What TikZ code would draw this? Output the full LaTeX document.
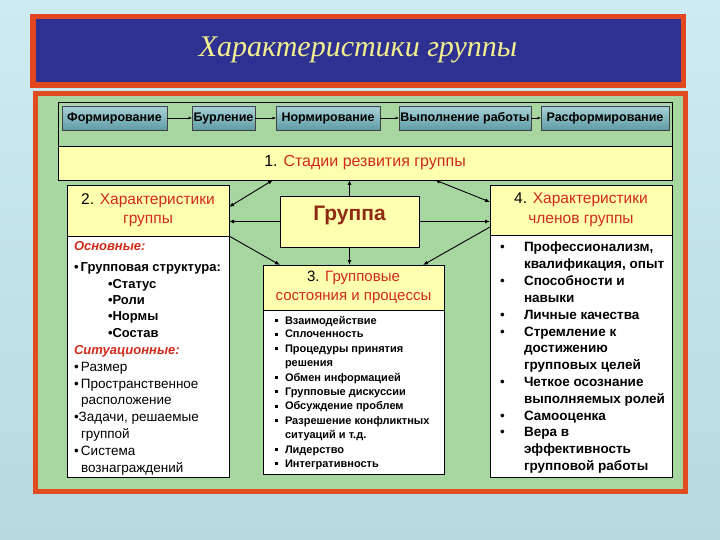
\documentclass[tikz,border=0pt]{standalone}
\usepackage{fontspec}
\setmainfont{Liberation Sans}
\newfontfamily\titlefont{Liberation Serif}
\usetikzlibrary{arrows.meta}
\definecolor{bgtop}{HTML}{CDEBF2}
\definecolor{bgbot}{HTML}{B6DADF}
\definecolor{titlered}{HTML}{E2471F}
\definecolor{titleblue}{HTML}{2E3192}
\definecolor{titleyellow}{HTML}{F2F08E}
\definecolor{panelred}{HTML}{E14B22}
\definecolor{panelgreen}{HTML}{A7D6A0}
\definecolor{hdryellow}{HTML}{FFFFB0}
\definecolor{redtxt}{HTML}{D02A1A}
\definecolor{browntxt}{HTML}{8E2A12}
\definecolor{stagetop}{HTML}{A9D3D8}
\definecolor{stagebot}{HTML}{5F9BA5}
\newcommand\tline[4]{\node[tl,#1] (#2) at (#3) {#4};}
\newcommand\sqb{\makebox[10pt][l]{\rule[2pt]{2.6pt}{2.6pt}}}
\newcommand\rb{\makebox[24pt][l]{\mdseries\textbullet}}
\begin{document}
\begin{tikzpicture}[x=1pt,y=-1pt,
  box/.style={anchor=north west, inner sep=0pt, outer sep=0pt},
  hdr/.style={box, draw=black, line width=0.8pt, fill=hdryellow, align=center},
  body/.style={box, draw=black, line width=0.8pt, fill=white},
  stagebox/.style={box, draw=black!75, line width=0.6pt, top color=stagetop, bottom color=stagebot,
     font=\bfseries\fontsize{12.5}{14}\selectfont, minimum height=24pt},
  conn/.style={line width=0.9pt, -{Latex[length=5pt,width=4pt]}},
  conn2/.style={line width=0.9pt, {Latex[length=5pt,width=4pt]}-{Latex[length=5pt,width=4pt]}},
  sconn/.style={line width=0.6pt, -{Latex[length=3.5pt,width=3pt]}},
  tl/.style={anchor=base west, inner sep=0pt, outer sep=0pt},
  f2b/.style={font=\bfseries\fontsize{13}{15}\selectfont},
  f2r/.style={font=\fontsize{13.5}{16}\selectfont},
  f2i/.style={font=\bfseries\itshape\fontsize{13}{15}\selectfont, text=redtxt},
  f3/.style={font=\bfseries\fontsize{11}{13}\selectfont},
  f4/.style={font=\bfseries\fontsize{13.5}{16}\selectfont}]
\useasboundingbox (0,0) rectangle (720,540);
\shade[top color=bgtop, bottom color=bgbot] (0,0) rectangle (720,540);

% title
\node[box, fill=titlered, minimum width=656pt, minimum height=74pt] (tframe) at (30,14) {};
\node[box, fill=titleblue, minimum width=645pt, minimum height=63pt] (tbox) at (36,19.5) {};
\node[text=titleyellow, font=\titlefont\itshape\fontsize{30}{36}\selectfont] (title) at (358,50) {Характеристики группы};

% panel
\node[box, fill=panelred, minimum width=655pt, minimum height=403pt] (pframe) at (33,91) {};
\node[box, fill=panelgreen, minimum width=645pt, minimum height=393pt] (pin) at (38,96) {};

% stage row
\node[box, draw=black, line width=0.7pt, minimum width=614pt, minimum height=78pt] (srow) at (58,102) {};
\node[box, draw=black, line width=0.7pt, fill=hdryellow, minimum width=614pt, minimum height=34pt,
  font=\fontsize{16}{18}\selectfont] (one) at (58,146) {1. \textcolor{redtxt}{Стадии резвития группы}};
\node[stagebox, minimum width=105pt] (s1) at (62,106) {Формирование};
\node[stagebox, minimum width=63pt] (s2) at (192,106) {Бурление};
\node[stagebox, minimum width=104pt] (s3) at (276,106) {Нормирование};
\node[stagebox, minimum width=132pt] (s4) at (399,106) {Выполнение работы};
\node[stagebox, minimum width=128pt] (s5) at (541,106) {Расформирование};
\draw[sconn] (s1) -- (s2);
\draw[sconn] (s2) -- (s3);
\draw[sconn] (s3) -- (s4);
\draw[sconn] (s4) -- (s5);

% boxes
\node[hdr, minimum width=162pt, minimum height=51pt, font=\fontsize{15.5}{19}\selectfont] (h2) at (67,185)
  {2. \textcolor{redtxt}{Характеристики}\\\textcolor{redtxt}{группы}};
\node[body, minimum width=162pt, minimum height=241pt] (b2) at (67,236) {};
\node[hdr, minimum width=139pt, minimum height=51pt] (g) at (280,196) {};
\node[text=browntxt, font=\bfseries\fontsize{21}{24}\selectfont] (gt) at (349.5,215) {Группа};
\node[hdr, minimum width=181pt, minimum height=45pt, font=\fontsize{15}{19}\selectfont] (h3) at (263,265)
  {3. \textcolor{redtxt}{Групповые}\\\textcolor{redtxt}{состояния и процессы}};
\node[body, minimum width=181pt, minimum height=164pt] (b3) at (263,310) {};
\node[hdr, minimum width=182pt, minimum height=50pt, font=\fontsize{15.5}{20}\selectfont] (h4) at (490,185)
  {4. \textcolor{redtxt}{Характеристики}\\\textcolor{redtxt}{членов группы}};
\node[body, minimum width=182pt, minimum height=242pt] (b4) at (490,235) {};

% connectors
\draw[conn] (g.north) -- (g.north |- one.south);
\draw[conn2] ([yshift=3.5pt]h2.east) -- (273,0 |- one.south);
\draw[conn2] (435,0 |- one.south) -- ([yshift=8pt]h4.west);
\draw[conn] (g.west) -- (g.west -| h2.east);
\draw[conn] (g.east) -- (g.east -| h4.west);
\draw[conn] (h2.south east) -- (280,0 |- h3.north);
\draw[conn] (g.south) -- (g.south |- h3.north);
\draw[conn] ([yshift=-17pt]h4.west) -- (423,0 |- h3.north);

% box 2 text
\tline{f2i}{t2a}{74,250.5}{Основные:}
\tline{f2b}{t2b}{74,271}{\textbullet\,Групповая структура:}
\tline{f2b}{t2c}{108,288}{\textbullet Статус}
\tline{f2b}{t2d}{108,304}{\textbullet Роли}
\tline{f2b}{t2e}{108,320}{\textbullet Нормы}
\tline{f2b}{t2f}{108,337}{\textbullet Состав}
\tline{f2i}{t2g}{74,354}{Ситуационные:}
\tline{f2r}{t2h}{74,371}{\textbullet\,Размер}
\tline{f2r}{t2i}{74,388}{\textbullet\,Пространственное}
\tline{f2r}{t2j}{81,404}{расположение}
\tline{f2r}{t2k}{74,421}{\textbullet Задачи, решаемые}
\tline{f2r}{t2l}{81,438}{группой}
\tline{f2r}{t2m}{74,455}{\textbullet\,Система}
\tline{f2r}{t2n}{81,472}{вознаграждений}

% box 3 text
\tline{f3}{t3a}{275,324}{\sqb Взаимодействие}
\tline{f3}{t3b}{275,337.5}{\sqb Сплоченность}
\tline{f3}{t3c}{275,352}{\sqb Процедуры принятия}
\tline{f3}{t3d}{285,366}{решения}
\tline{f3}{t3e}{275,381}{\sqb Обмен информацией}
\tline{f3}{t3f}{275,395}{\sqb Групповые дискуссии}
\tline{f3}{t3g}{275,409.5}{\sqb Обсуждение проблем}
\tline{f3}{t3h}{275,424}{\sqb Разрешение конфликтных}
\tline{f3}{t3i}{285,438}{ситуаций и т.д.}
\tline{f3}{t3j}{275,453}{\sqb Лидерство}
\tline{f3}{t3k}{275,467}{\sqb Интегративность}

% box 4 text
\tline{f4}{t4a}{500,251.5}{\rb Профессионализм,}
\tline{f4}{t4b}{524,268.5}{квалификация, опыт}
\tline{f4}{t4c}{500,285.5}{\rb Способности и}
\tline{f4}{t4d}{524,302}{навыки}
\tline{f4}{t4e}{500,319}{\rb Личные качества}
\tline{f4}{t4f}{500,336}{\rb Стремление к}
\tline{f4}{t4g}{524,352.5}{достижению}
\tline{f4}{t4h}{524,369.5}{групповых целей}
\tline{f4}{t4i}{500,386.5}{\rb Четкое осознание}
\tline{f4}{t4j}{524,403}{выполняемых ролей}
\tline{f4}{t4k}{500,420}{\rb Самооценка}
\tline{f4}{t4l}{500,436.5}{\rb Вера в}
\tline{f4}{t4m}{524,453.5}{эффективность}
\tline{f4}{t4n}{524,470}{групповой работы}
\end{tikzpicture}
\end{document}
